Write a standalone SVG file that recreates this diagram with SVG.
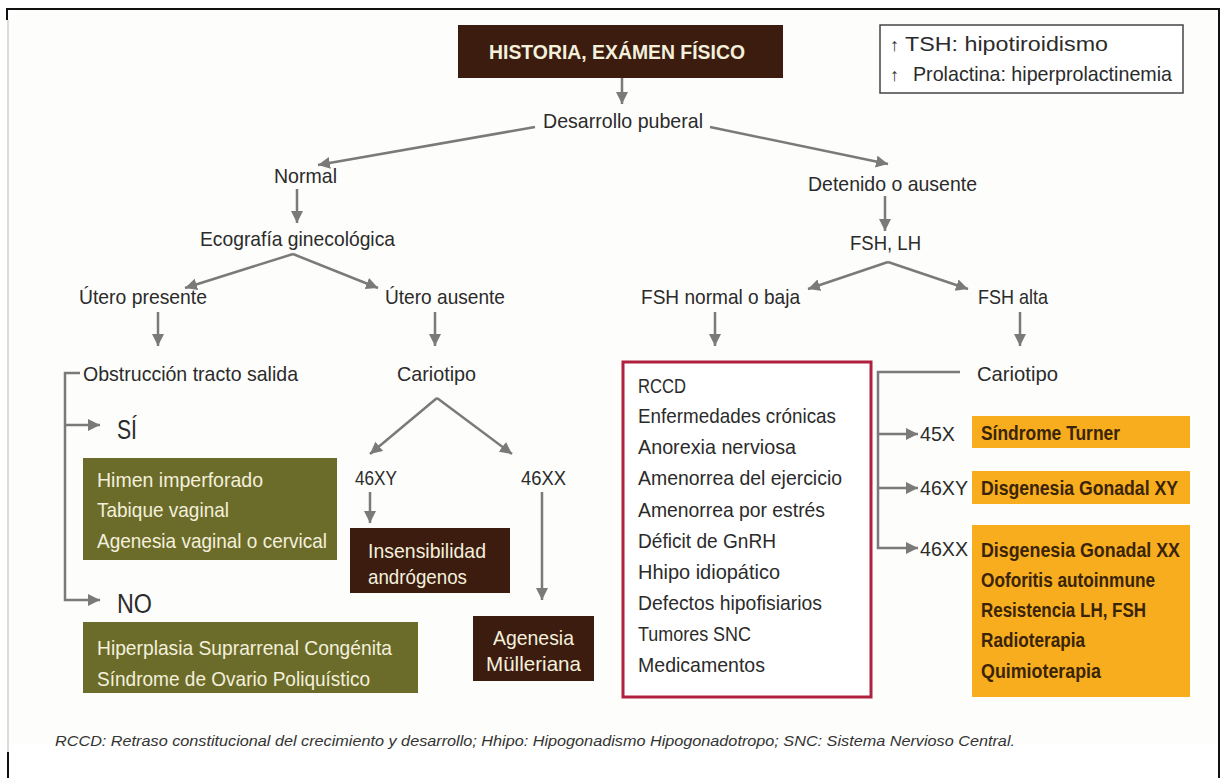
<svg xmlns="http://www.w3.org/2000/svg" width="1226" height="778" viewBox="0 0 1226 778">
<style>
text{font-family:"Liberation Sans",Arial,sans-serif;font-size:21px;fill:#2b2b2b}
.w{fill:#f3f0dc}
.b{font-weight:bold}
.big{font-size:27px}
.or{fill:#3a2408;font-weight:bold;font-size:20px}
.ft{font-style:italic;font-size:15px;fill:#333}
.ln{fill:none;stroke:#7a7a7a;stroke-width:2.5}
.ar{marker-end:url(#ah)}
</style>
<defs>
<marker id="ah" markerUnits="userSpaceOnUse" markerWidth="14" markerHeight="14" refX="12" refY="6" orient="auto">
<path d="M0,0 L12,6 L0,12 Z" fill="#7a7a7a"/>
</marker>
</defs>
<rect x="0" y="0" width="1226" height="778" fill="#ffffff"/>
<g id="frame">
<rect x="9" y="9" width="1209" height="735" fill="#fdfdfb"/>
<path d="M7,20 V9 H1219 V778" fill="none" stroke="#111" stroke-width="2"/>
<path d="M8,20 V752" fill="none" stroke="#d0d0d0" stroke-width="1.5"/>
<path d="M8,752 V778" fill="none" stroke="#111" stroke-width="2"/>
</g>
<g id="connectors">
<path class="ln ar" d="M622,78 V104"/>
<path class="ln ar" d="M535,127 L318,165"/>
<path class="ln ar" d="M710,127 L888,164"/>
<path class="ln ar" d="M297,189 V223"/>
<path class="ln ar" d="M885,196 V231"/>
<path class="ln ar" d="M293,254 L185,288"/>
<path class="ln ar" d="M293,254 L378,288"/>
<path class="ln ar" d="M888,262 L808,289"/>
<path class="ln ar" d="M888,262 L968,289"/>
<path class="ln ar" d="M158,312 V346"/>
<path class="ln ar" d="M435,312 V346"/>
<path class="ln ar" d="M715,312 V346"/>
<path class="ln ar" d="M1020,312 V346"/>
<path class="ln ar" d="M80,373 H65 V600 H100"/>
<path class="ln ar" d="M65,425 H100"/>
<path class="ln ar" d="M437,398 L370,454"/>
<path class="ln ar" d="M437,398 L512,454"/>
<path class="ln ar" d="M370,492 V523"/>
<path class="ln ar" d="M542,492 V600"/>
<path class="ln ar" d="M960,372 H878 V548 H918"/>
<path class="ln ar" d="M878,434 H918"/>
<path class="ln ar" d="M878,488 H918"/>
</g>
<g id="n-historia">
<rect x="458" y="25" width="325" height="53" fill="#3d1c10"/>
<text class="w b" x="489" y="59" textLength="256" lengthAdjust="spacingAndGlyphs">HISTORIA, EXÁMEN FÍSICO</text>
</g>
<g id="n-legend">
<rect x="880" y="25" width="303" height="68" fill="#fff" stroke="#444" stroke-width="1.5"/>
<text x="890" y="51" style="font-size:18px">↑</text>
<text x="905" y="51" textLength="203" lengthAdjust="spacingAndGlyphs">TSH: hipotiroidismo</text>
<text x="890" y="81" style="font-size:18px">↑</text>
<text x="913" y="81" textLength="259" lengthAdjust="spacingAndGlyphs">Prolactina: hiperprolactinemia</text>
</g>
<g id="n-desarrollo"><text x="543" y="128" textLength="160" lengthAdjust="spacingAndGlyphs">Desarrollo puberal</text></g>
<g id="n-normal"><text x="274" y="183" textLength="63" lengthAdjust="spacingAndGlyphs">Normal</text></g>
<g id="n-detenido"><text x="808" y="191" textLength="169" lengthAdjust="spacingAndGlyphs">Detenido o ausente</text></g>
<g id="n-ecografia"><text x="200" y="246" textLength="195" lengthAdjust="spacingAndGlyphs">Ecografía ginecológica</text></g>
<g id="n-fshlh"><text x="850" y="250" textLength="71" lengthAdjust="spacingAndGlyphs">FSH, LH</text></g>
<g id="n-utero-presente"><text x="79" y="304" textLength="128" lengthAdjust="spacingAndGlyphs">Útero presente</text></g>
<g id="n-utero-ausente"><text x="385" y="304" textLength="120" lengthAdjust="spacingAndGlyphs">Útero ausente</text></g>
<g id="n-fsh-normal"><text x="641" y="304" textLength="159" lengthAdjust="spacingAndGlyphs">FSH normal o baja</text></g>
<g id="n-fsh-alta"><text x="978" y="304" textLength="70" lengthAdjust="spacingAndGlyphs">FSH alta</text></g>
<g id="n-obstruccion"><text x="83" y="381" textLength="215" lengthAdjust="spacingAndGlyphs">Obstrucción tracto salida</text></g>
<g id="n-si"><text class="big" x="117" y="439" textLength="20" lengthAdjust="spacingAndGlyphs">SÍ</text></g>
<g id="n-no"><text class="big" x="117" y="613" textLength="35" lengthAdjust="spacingAndGlyphs">NO</text></g>
<g id="n-green1">
<rect x="83" y="458" width="254" height="102" fill="#6c6c2a"/>
<text class="w" x="97" y="487" textLength="166" lengthAdjust="spacingAndGlyphs">Himen imperforado</text>
<text class="w" x="97" y="517" textLength="132" lengthAdjust="spacingAndGlyphs">Tabique vaginal</text>
<text class="w" x="97" y="548" textLength="230" lengthAdjust="spacingAndGlyphs">Agenesia vaginal o cervical</text>
</g>
<g id="n-green2">
<rect x="83" y="622" width="335" height="71" fill="#6c6c2a"/>
<text class="w" x="97" y="655" textLength="295" lengthAdjust="spacingAndGlyphs">Hiperplasia Suprarrenal Congénita</text>
<text class="w" x="97" y="686" textLength="273" lengthAdjust="spacingAndGlyphs">Síndrome de Ovario Poliquístico</text>
</g>
<g id="n-cariotipo1"><text x="397" y="381" textLength="79" lengthAdjust="spacingAndGlyphs">Cariotipo</text></g>
<g id="n-46xy"><text x="355" y="485" textLength="42" lengthAdjust="spacingAndGlyphs">46XY</text></g>
<g id="n-46xx"><text x="521" y="485" textLength="45" lengthAdjust="spacingAndGlyphs">46XX</text></g>
<g id="n-insensibilidad">
<rect x="350" y="528" width="160" height="65" fill="#3d1c10"/>
<text class="w" x="368" y="558" textLength="118" lengthAdjust="spacingAndGlyphs">Insensibilidad</text>
<text class="w" x="368" y="584" textLength="99" lengthAdjust="spacingAndGlyphs">andrógenos</text>
</g>
<g id="n-agenesia">
<rect x="473" y="616" width="121" height="65" fill="#3d1c10"/>
<text class="w" x="493" y="645" textLength="81" lengthAdjust="spacingAndGlyphs">Agenesia</text>
<text class="w" x="486" y="671" textLength="95" lengthAdjust="spacingAndGlyphs">Mülleriana</text>
</g>
<g id="n-redbox">
<rect x="623" y="362" width="248" height="335" fill="#fff" stroke="#b0213f" stroke-width="3"/>
<text x="638" y="393" textLength="48" lengthAdjust="spacingAndGlyphs">RCCD</text>
<text x="638" y="423" textLength="198" lengthAdjust="spacingAndGlyphs">Enfermedades crónicas</text>
<text x="638" y="454" textLength="158" lengthAdjust="spacingAndGlyphs">Anorexia nerviosa</text>
<text x="638" y="485" textLength="204" lengthAdjust="spacingAndGlyphs">Amenorrea del ejercicio</text>
<text x="638" y="517" textLength="187" lengthAdjust="spacingAndGlyphs">Amenorrea por estrés</text>
<text x="638" y="548" textLength="138" lengthAdjust="spacingAndGlyphs">Déficit de GnRH</text>
<text x="638" y="579" textLength="142" lengthAdjust="spacingAndGlyphs">Hhipo idiopático</text>
<text x="638" y="610" textLength="184" lengthAdjust="spacingAndGlyphs">Defectos hipofisiarios</text>
<text x="638" y="641" textLength="113" lengthAdjust="spacingAndGlyphs">Tumores SNC</text>
<text x="638" y="672" textLength="127" lengthAdjust="spacingAndGlyphs">Medicamentos</text>
</g>
<g id="n-cariotipo2"><text x="977" y="381" textLength="81" lengthAdjust="spacingAndGlyphs">Cariotipo</text></g>
<g id="n-45x"><text x="920" y="441" textLength="35" lengthAdjust="spacingAndGlyphs">45X</text></g>
<g id="n-46xy2"><text x="920" y="495" textLength="48" lengthAdjust="spacingAndGlyphs">46XY</text></g>
<g id="n-46xx2"><text x="920" y="556" textLength="48" lengthAdjust="spacingAndGlyphs">46XX</text></g>
<g id="n-turner">
<rect x="972" y="416" width="218" height="32" fill="#f7ad1d"/>
<text class="or" x="981" y="440" textLength="139" lengthAdjust="spacingAndGlyphs">Síndrome Turner</text>
</g>
<g id="n-dgxy">
<rect x="972" y="471" width="218" height="33" fill="#f7ad1d"/>
<text class="or" x="981" y="495" textLength="197" lengthAdjust="spacingAndGlyphs">Disgenesia Gonadal XY</text>
</g>
<g id="n-dgxx">
<rect x="972" y="525" width="218" height="172" fill="#f7ad1d"/>
<text class="or" x="981" y="557" textLength="199" lengthAdjust="spacingAndGlyphs">Disgenesia Gonadal XX</text>
<text class="or" x="981" y="587" textLength="174" lengthAdjust="spacingAndGlyphs">Ooforitis autoinmune</text>
<text class="or" x="981" y="617" textLength="165" lengthAdjust="spacingAndGlyphs">Resistencia LH, FSH</text>
<text class="or" x="981" y="647" textLength="104" lengthAdjust="spacingAndGlyphs">Radioterapia</text>
<text class="or" x="981" y="678" textLength="120" lengthAdjust="spacingAndGlyphs">Quimioterapia</text>
</g>
<g id="footer">
<text class="ft" x="55" y="746" textLength="960" lengthAdjust="spacingAndGlyphs">RCCD: Retraso constitucional del crecimiento y desarrollo; Hhipo: Hipogonadismo Hipogonadotropo; SNC: Sistema Nervioso Central.</text>
</g>
</svg>
